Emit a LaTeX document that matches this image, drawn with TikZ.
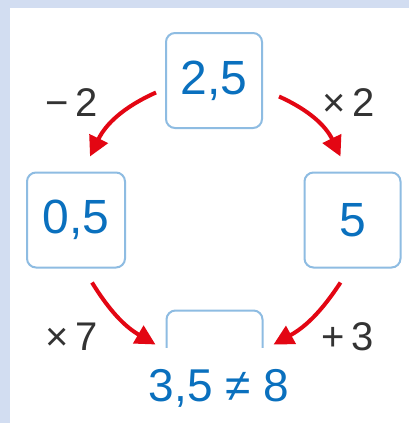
\documentclass[tikz,border=0pt]{standalone}
\usepackage{fontspec}
\setmainfont{Liberation Sans}
\usepackage{tikz}
\usetikzlibrary{arrows.meta}

\definecolor{framebg}{HTML}{D2DDF1}
\definecolor{boxline}{HTML}{8EBCE2}
\definecolor{numblue}{HTML}{0A70BE}
\definecolor{oparrow}{HTML}{E30613}
\definecolor{oplabel}{HTML}{333333}

\begin{document}
\begin{tikzpicture}[x=1pt,y=1pt,
        numbox/.style={draw=boxline,line width=2pt,rounded corners=9pt,
            minimum width=96pt,minimum height=95pt,inner sep=0pt,
            text=numblue,font=\fontsize{48}{48}\selectfont},
        oplab/.style={text=oplabel,font=\fontsize{40}{40}\selectfont},
        oparr/.style={draw=oparrow,line width=4pt,
            -{Triangle[length=20pt,width=20pt]}}
    ]
    \useasboundingbox (0,0) rectangle (409,-423);
    \fill[framebg] (0,0) rectangle (409,-423);
    \fill[white] (10,-8) rectangle (409,-423);

    \node[numbox] (start) at (214,-80.5) {\raisebox{-4pt}{2,5}};
    \node[numbox,minimum width=98pt] (minus) at (76,-220) {0,5};
    \node[numbox] (times) at (352.5,-220) {5};
    \begin{scope}
        \clip (0,0) rectangle (409,-347);
        \node[numbox] (res) at (214.5,-358) {};
    \end{scope}

    \node[text=numblue,font=\fontsize{46}{46}\selectfont] (ineq) at (219,-388) {3,5 ≠ 8};

    % operations
    \node[oplab] (opa) at (72,-103) {−\,2};
    \node[oplab] (opb) at (349,-103) {×\,2};
    \node[oplab] (opc) at (72,-337) {×\,7};
    \node[oplab] (opd) at (348,-337) {+\,3};

    \coordinate (a1) at ([shift={(-9,-12)}]start.west);
    \coordinate (a2) at ([shift={(14,15)}]minus.north);
    \coordinate (b1) at ([shift={(16,-16)}]start.east);
    \coordinate (b2) at ([shift={(-12,15)}]times.north);
    \coordinate (c1) at ([shift={(16,-14)}]minus.south);
    \coordinate (c2) at ([shift={(-10,-35)}]res.north west);
    \coordinate (d1) at ([shift={(-12,-14)}]times.south);
    \coordinate (d2) at ([shift={(10,-35)}]res.north east);

    \path
    (a1) edge[oparr,bend right=20] (a2)
    (b1) edge[oparr,bend left=20]  (b2)
    (c1) edge[oparr,bend right=14] (c2)
    (d1) edge[oparr,bend left=14]  (d2);
\end{tikzpicture}
\end{document}
